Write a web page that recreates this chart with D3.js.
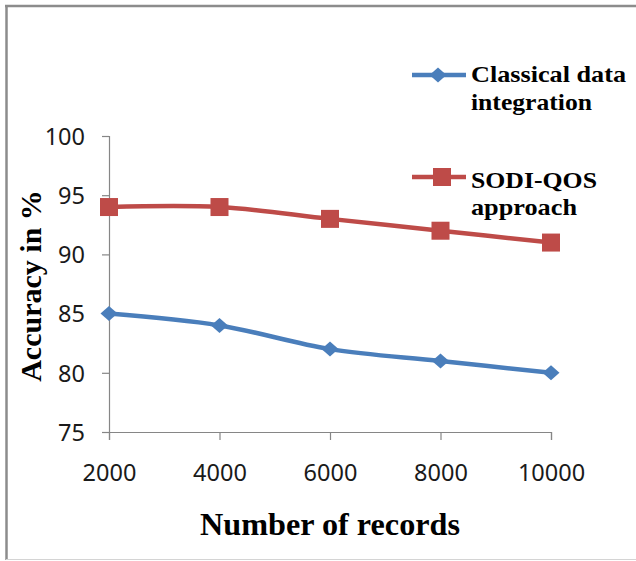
<!DOCTYPE html>
<html>
<head>
<meta charset="utf-8">
<script src="https://cdn.jsdelivr.net/npm/d3@7"></script>
<style>
  html, body { margin: 0; padding: 0; background: #fff; }
  svg { display: block; }
</style>
</head>
<body>
<svg id="chart" width="636" height="561"></svg>
<script>
// Accuracy of two data-integration approaches versus the number of records
const records = [2000, 4000, 6000, 8000, 10000];
const classicalAccuracy = [85, 84, 82, 81, 80];
const sodiQosAccuracy = [94, 94, 93, 92, 91];
const yTicks = [75, 80, 85, 90, 95, 100];

const seriesNames = [["Classical data", "integration"], ["SODI-QOS", "approach"]];
const seriesColors = ["#4A7EBB", "#BE4B48"];

const svg = d3.select("#chart");

// chart frame
svg.append("line").attr("x1", 6.5).attr("y1", 5).attr("x2", 6.5).attr("y2", 560)
  .attr("stroke", "#8c8c8c").attr("stroke-width", 2.5);
svg.append("line").attr("x1", 5).attr("y1", 6).attr("x2", 636).attr("y2", 6)
  .attr("stroke", "#8c8c8c").attr("stroke-width", 2.5);
svg.append("line").attr("x1", 6).attr("y1", 559.5).attr("x2", 636).attr("y2", 559.5)
  .attr("stroke", "#d4d4d4").attr("stroke-width", 1);

const x = d3.scalePoint().domain(records).range([109, 551]);
const y = d3.scaleLinear().domain([75, 100]).range([432, 136]);

const axisColor = "#868686";
const tickFont = "'Noto Sans', 'Open Sans', sans-serif";

// y axis
const yAxis = svg.append("g").attr("transform", "translate(109,0)")
  .call(d3.axisLeft(y).tickValues(yTicks).tickSize(7).tickPadding(17).tickFormat(d3.format("d")));
// x axis
const xAxis = svg.append("g").attr("transform", "translate(0,432)")
  .call(d3.axisBottom(x).tickSize(8).tickPadding(17));

[yAxis, xAxis].forEach(g => {
  g.select(".domain").attr("stroke", axisColor).attr("stroke-width", 1.2);
  g.selectAll(".tick line").attr("stroke", axisColor).attr("stroke-width", 1.2);
  g.selectAll(".tick text")
    .attr("fill", "#1a1a1a")
    .style("font-family", tickFont)
    .style("font-size", "23.5px");
});
xAxis.selectAll(".tick text").attr("y", 49).attr("dy", "0");
yAxis.selectAll(".tick text").attr("dy", "0.35em");

// series lines, smoothed
const line = d3.line()
  .x((d, i) => x(records[i]))
  .y(d => y(d))
  .curve(d3.curveCardinal.tension(0));

const series = [classicalAccuracy, sodiQosAccuracy];

series.forEach((vals, si) => {
  svg.append("path")
    .datum(vals)
    .attr("d", line)
    .attr("fill", "none")
    .attr("stroke", seriesColors[si])
    .attr("stroke-width", 4.5)
    .attr("stroke-linejoin", "round");
});

// markers
const diamond = (cx, cy) => `M${cx},${cy - 7.5}L${cx + 8.5},${cy}L${cx},${cy + 7.5}L${cx - 8.5},${cy}Z`;

svg.append("g").selectAll("path")
  .data(classicalAccuracy)
  .join("path")
  .attr("d", (d, i) => diamond(x(records[i]), y(d)))
  .attr("fill", seriesColors[0]);

svg.append("g").selectAll("rect")
  .data(sodiQosAccuracy)
  .join("rect")
  .attr("x", (d, i) => x(records[i]) - 9)
  .attr("y", d => y(d) - 9)
  .attr("width", 18)
  .attr("height", 18)
  .attr("fill", seriesColors[1]);

// legend
const serif = "'Liberation Serif', 'Times New Roman', serif";
const legendRows = [
  { lineY: 75, textY: [82, 110], widths: [155, 121] },
  { lineY: 177, textY: [188, 215], widths: [126, 106] }
];
legendRows.forEach((row, si) => {
  svg.append("line")
    .attr("x1", 412).attr("x2", 466)
    .attr("y1", row.lineY).attr("y2", row.lineY)
    .attr("stroke", seriesColors[si]).attr("stroke-width", 4.5);
  if (si === 0) {
    svg.append("path").attr("d", diamond(438, row.lineY)).attr("fill", seriesColors[0]);
  } else {
    svg.append("rect").attr("x", 433).attr("y", row.lineY - 9)
      .attr("width", 18).attr("height", 18).attr("fill", seriesColors[1]);
  }
  seriesNames[si].forEach((t, k) => {
    svg.append("text")
      .attr("x", 471).attr("y", row.textY[k])
      .attr("textLength", row.widths[k])
      .attr("lengthAdjust", "spacingAndGlyphs")
      .style("font-family", serif)
      .style("font-weight", "bold")
      .style("font-size", "24px")
      .attr("fill", "#000")
      .text(t);
  });
});

// axis titles
svg.append("text")
  .attr("x", 330).attr("y", 535)
  .attr("text-anchor", "middle")
  .attr("textLength", 260)
  .attr("lengthAdjust", "spacingAndGlyphs")
  .style("font-family", serif)
  .style("font-weight", "bold")
  .style("font-size", "31px")
  .text("Number of records");

svg.append("text")
  .attr("transform", "translate(41,286) rotate(-90)")
  .attr("text-anchor", "middle")
  .style("font-family", serif)
  .style("font-weight", "bold")
  .style("font-size", "30px")
  .text("Accuracy in %");
</script>
</body>
</html>
